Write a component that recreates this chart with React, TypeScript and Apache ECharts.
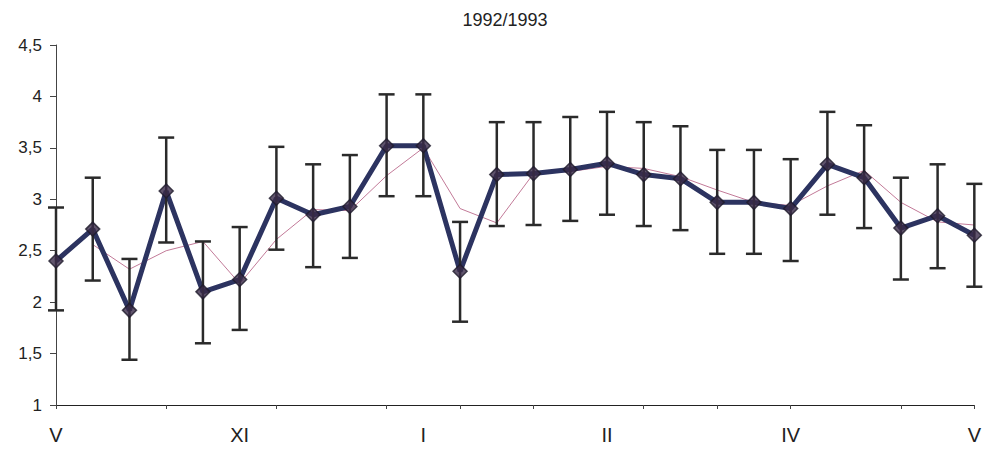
import React, { useEffect, useRef } from "react";
import * as echarts from "echarts";

const categories = ["V", "", "", "", "", "XI", "", "", "", "", "I", "", "", "", "", "II", "", "", "", "", "IV", "", "", "", "", "V"];
const means = [2.40, 2.71, 1.92, 3.08, 2.10, 2.22, 3.01, 2.85, 2.93, 3.52, 3.52, 2.30, 3.24, 3.25, 3.29, 3.35, 3.24, 3.20, 2.97, 2.97, 2.91, 3.34, 3.21, 2.72, 2.84, 2.65];
const upper = [2.92, 3.21, 2.42, 3.60, 2.59, 2.73, 3.51, 3.34, 3.43, 4.02, 4.02, 2.78, 3.75, 3.75, 3.80, 3.85, 3.75, 3.71, 3.48, 3.48, 3.39, 3.85, 3.72, 3.21, 3.34, 3.15];
const lower = [1.92, 2.21, 1.44, 2.58, 1.60, 1.73, 2.51, 2.34, 2.43, 3.03, 3.03, 1.81, 2.74, 2.75, 2.79, 2.85, 2.74, 2.70, 2.47, 2.47, 2.40, 2.85, 2.72, 2.22, 2.33, 2.15];
const trend = [null, 2.56, 2.32, 2.50, 2.59, 2.18, 2.61, 2.90, 2.89, 3.23, 3.50, 2.91, 2.77, 3.25, 3.27, 3.32, 3.30, 3.22, 3.09, 2.97, 2.94, 3.13, 3.28, 2.97, 2.78, 2.75];
const xTickIndices = [0, 3, 6, 9, 11, 13, 16, 18, 20, 23, 25];
const title = "1992/1993";

export default function App() {
  const ref = useRef<HTMLDivElement>(null);
  useEffect(() => {
    document.body.style.margin = "0";
    const chart = echarts.init(ref.current!, null, { renderer: "svg" });
    const errData = means.map((_, i) => [i, lower[i], upper[i]]);
    chart.setOption({
      animation: false,
      backgroundColor: "#ffffff",
      title: {
        text: title,
        left: 500,
        textAlign: "center",
        top: 6,
        textStyle: { fontFamily: "Liberation Sans, Arial, sans-serif", fontSize: 18, fontWeight: "normal", color: "#222" },
      },
      grid: { left: 56, right: 8, top: 45, bottom: 50 },
      xAxis: {
        type: "category",
        data: categories,
        boundaryGap: false,
        axisLine: { lineStyle: { color: "#222", width: 1 } },
        axisTick: {
          show: true,
          interval: (idx: number) => xTickIndices.includes(idx),
          length: 4,
          lineStyle: { color: "#444" },
        },
        axisLabel: {
          interval: 0,
          margin: 20,
          fontFamily: "Liberation Sans, Arial, sans-serif",
          fontSize: 20,
          color: "#222",
        },
        splitLine: { show: false },
      },
      yAxis: {
        type: "value",
        min: 1,
        max: 4.5,
        interval: 0.5,
        axisLine: { show: true, lineStyle: { color: "#444", width: 1 } },
        axisTick: { show: true, length: 6, lineStyle: { color: "#444" } },
        axisLabel: {
          margin: 14,
          fontFamily: "Liberation Sans, Arial, sans-serif",
          fontSize: 17,
          color: "#222",
          formatter: (v: number) => String(v).replace(".", ","),
        },
        splitLine: { show: false },
      },
      series: [
        {
          type: "line",
          data: trend,
          symbol: "none",
          lineStyle: { color: "#c27a98", width: 1 },
          z: 1,
        },
        {
          type: "line",
          data: means,
          symbol: "none",
          lineStyle: { color: "#2c3360", width: 5 },
          z: 2,
        },
        {
          type: "custom",
          data: errData,
          encode: { x: 0, y: [1, 2] },
          z: 3,
          renderItem: (params: any, api: any) => {
            const i = api.value(0);
            const lo = api.coord([i, api.value(1)]);
            const hi = api.coord([i, api.value(2)]);
            const w = 8;
            const style = { stroke: "#2a2a2a", lineWidth: 2.5 };
            return {
              type: "group",
              children: [
                { type: "line", shape: { x1: hi[0], y1: hi[1], x2: lo[0], y2: lo[1] }, style },
                { type: "line", shape: { x1: hi[0] - w, y1: hi[1], x2: hi[0] + w, y2: hi[1] }, style },
                { type: "line", shape: { x1: lo[0] - w, y1: lo[1], x2: lo[0] + w, y2: lo[1] }, style },
              ],
            };
          },
        },
        {
          type: "scatter",
          data: means,
          symbol: "diamond",
          symbolSize: 14,
          itemStyle: { color: "#3a2a48", borderColor: "#1e1a2a", borderWidth: 1.5 },
          z: 4,
        },
      ],
    });
    return () => chart.dispose();
  }, []);
  return <div ref={ref} style={{ width: 984, height: 455 }} />;
}
